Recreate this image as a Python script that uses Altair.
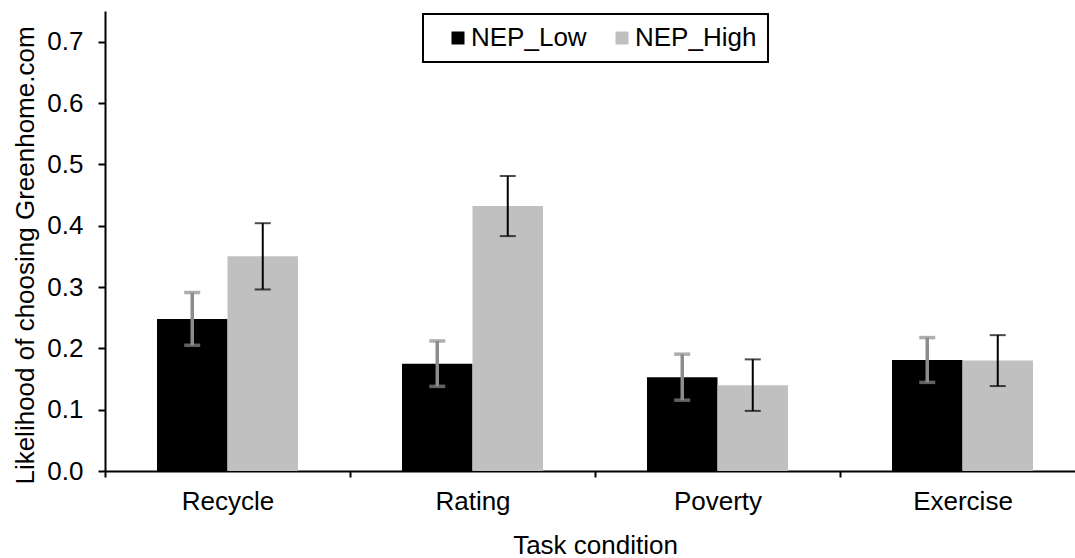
import altair as alt
import pandas as pd

# Task conditions and NEP groups
conditions = ["Recycle", "Rating", "Poverty", "Exercise"]
groups = ["NEP_Low", "NEP_High"]

# Mean likelihood and standard error per condition
low_means = [0.248, 0.175, 0.153, 0.181]
low_errs = [0.043, 0.037, 0.0375, 0.0365]
high_means = [0.350, 0.432, 0.140, 0.180]
high_errs = [0.054, 0.049, 0.042, 0.0415]

rows = []
for i, cond in enumerate(conditions):
    rows.append({"condition": cond, "group": groups[0], "mean": low_means[i], "err": low_errs[i]})
    rows.append({"condition": cond, "group": groups[1], "mean": high_means[i], "err": high_errs[i]})
df = pd.DataFrame(rows)
df["lo"] = df["mean"] - df["err"]
df["hi"] = df["mean"] + df["err"]

FONT = "Liberation Sans"
FS = 26
Y_TITLE = "Likelihood of choosing Greenhome.com"

x_enc = alt.X(
    "condition:N",
    sort=conditions,
    title="Task condition",
    scale=alt.Scale(range=[0, 980], paddingInner=0, paddingOuter=0),
    axis=alt.Axis(
        labelAngle=0,
        tickBand="extent",
        tickSize=6,
        labelPadding=11,
        titleBaseline="alphabetic",
        titleY=82,
    ),
)
xoff_enc = alt.XOffset(
    "group:N",
    sort=groups,
    scale=alt.Scale(domain=groups, paddingInner=0, paddingOuter=0.7376),
)
y_axis = alt.Axis(
    values=[0, 0.1, 0.2, 0.3, 0.4, 0.5, 0.6, 0.7],
    format=".1f",
    tickSize=7,
    labelPadding=15,
    titleAngle=270,
    titleX=-72,
    titleY=244,
    titleAlign="center",
    titleBaseline="alphabetic",
)
y_scale = alt.Scale(domain=[0, 0.75], nice=False)

base = alt.Chart(df).encode(x=x_enc, xOffset=xoff_enc)

bars = base.mark_bar().encode(
    y=alt.Y("mean:Q", scale=y_scale, axis=y_axis, title=Y_TITLE),
    color=alt.Color(
        "group:N",
        sort=groups,
        scale=alt.Scale(domain=groups, range=["#000000", "#c0c0c0"]),
        legend=alt.Legend(
            title=None,
            orient="none",
            legendX=318,
            legendY=3,
            direction="horizontal",
        ),
    ),
)


def error_layers(group, color, width):
    rule = (
        base.mark_rule(color=color, strokeWidth=width)
        .encode(
            y=alt.Y("lo:Q", scale=y_scale, axis=y_axis, title=Y_TITLE),
            y2="hi:Q",
        )
        .transform_filter(alt.datum.group == group)
    )
    caps = (
        base.mark_tick(color=color, thickness=width, size=16)
        .encode(y=alt.Y("val:Q", scale=y_scale, axis=y_axis, title=Y_TITLE))
        .transform_filter(alt.datum.group == group)
        .transform_fold(["lo", "hi"], as_=["end", "val"])
    )
    return [rule, caps]


layers = [bars] + error_layers("NEP_Low", "#8c8c8c", 3.5) + error_layers("NEP_High", "#000000", 2)

chart = (
    alt.layer(*layers)
    .properties(
        width=970,
        height=460,
        autosize=alt.AutoSizeParams(type="none"),
        padding={"left": 105, "top": 11, "right": 0, "bottom": 87},
        background="white",
    )
    .configure_view(strokeWidth=0)
    .configure_axis(
        grid=False,
        domainColor="black",
        domainWidth=2,
        tickColor="black",
        tickWidth=2,
        labelFont=FONT,
        labelFontSize=FS,
        labelColor="black",
        titleFont=FONT,
        titleFontSize=FS,
        titleFontWeight="normal",
        titleColor="black",
    )
    .configure_legend(
        labelFont=FONT,
        labelFontSize=FS,
        labelColor="black",
        labelOffset=0,
        symbolType="square",
        symbolSize=169,
        symbolStrokeWidth=0,
        symbolOffset=11,
        columnPadding=11,
        padding=11,
        strokeColor="black",
        strokeWidth=2,
        fillColor="white",
    )
)

chart.save("out.html", embed_options={"renderer": "svg", "actions": False})
